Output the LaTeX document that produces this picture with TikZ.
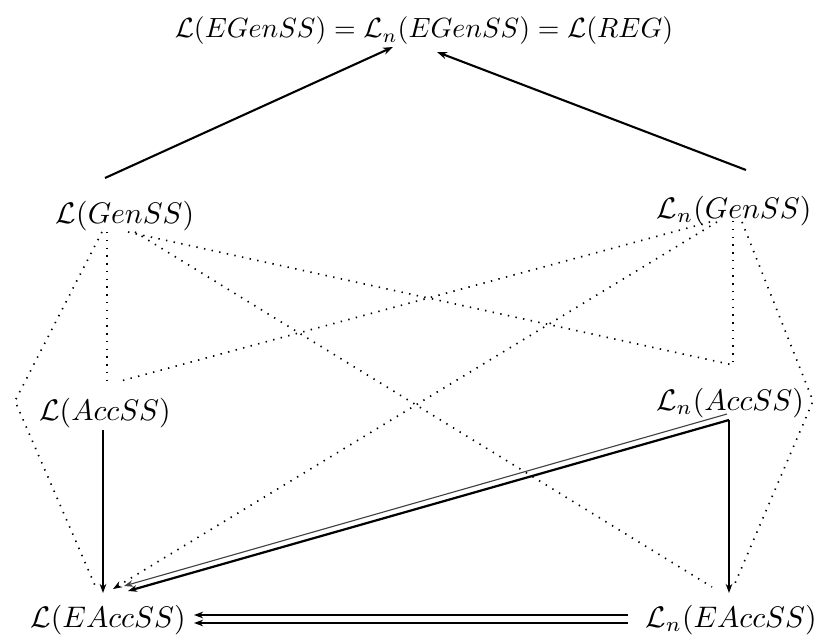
\documentclass[tikz,border=0pt]{standalone}
\usetikzlibrary{arrows.meta}
\begin{document}
\begin{tikzpicture}[x=0.36pt,y=-0.36pt,
  lbl/.style={inner sep=0pt},
  nlbl/.style={inner sep=0pt,scale=1.07},
  dotline/.style={line width=0.6pt,dash pattern=on 0.5pt off 2.3pt},
  tip/.style={-{Stealth[length=3.3pt,width=2.4pt]}},
  thickarr/.style={line width=0.75pt,-{Stealth[length=3.6pt,width=2.6pt]}},
  solidarr/.style={line width=0.45pt,tip},
]
\useasboundingbox (0,0) rectangle (817,640);
\node[lbl] (top) at (424,31) {$\mathcal{L}(EGenSS) = \mathcal{L}_n(EGenSS) = \mathcal{L}(REG)$};
\node[nlbl] (gen) at (125,216) {$\mathcal{L}(GenSS)$};
\node[nlbl] (ngen) at (734,211) {$\mathcal{L}_n(GenSS)$};
\node[nlbl] (acc) at (105,413) {$\mathcal{L}(AccSS)$};
\node[nlbl] (nacc) at (730,403) {$\mathcal{L}_n(AccSS)$};
\node[nlbl] (eacc) at (108,620) {$\mathcal{L}(EAccSS)$};
\node[nlbl] (neacc) at (731,620) {$\mathcal{L}_n(EAccSS)$};
\coordinate (lc) at (15,401);
\coordinate (rc) at (813,401);

% top arrows
\draw[thickarr] ([shift={(-20,-38)}]gen.center) -- ([shift={(-31,16)}]top.center);
\draw[thickarr] ([shift={(12,-41)}]ngen.center) -- ([shift={(13,21)}]top.center);

% dotted from L(GenSS)
\draw[dotline] ([shift={(-18,16)}]gen.center) -- ([shift={(2,-29)}]acc.center);
\draw[dotline] ([shift={(-23,16)}]gen.center) -- (lc) -- ([shift={(-11,-30)}]eacc.center);
\draw[dotline] ([shift={(3,16)}]gen.center) -- ([shift={(3,-38)}]nacc.center);
\draw[dotline] ([shift={(10,16)}]gen.center) -- ([shift={(-19,-33)}]neacc.center);

% dotted from Ln(GenSS)
\draw[dotline] ([shift={(-1,10)}]ngen.center) -- ([shift={(3,-38)}]nacc.center);
\draw[dotline] ([shift={(-24,11)}]ngen.center) -- ([shift={(12,-31)}]acc.center);
\draw[dotline,tip] ([shift={(-17,11)}]ngen.center) -- ([shift={(5,-31)}]eacc.center);
\draw[dotline] ([shift={(8,11)}]ngen.center) -- (rc) -- ([shift={(2,-32)}]neacc.center);

% solid vertical arrows
\draw[solidarr] ([shift={(-2,17)}]acc.center) -- ([shift={(-5,-27)}]eacc.center);
\draw[solidarr] ([shift={(-1,17)}]nacc.center) -- ([shift={(-2,-27)}]neacc.center);

% double diagonal arrow
\draw[line width=0.4pt,black!75,tip] ([shift={(-3,11)}]nacc.center) -- ([shift={(16,-34)}]eacc.center);
\draw[line width=0.8pt,tip] ([shift={(-1,17)}]nacc.center) -- ([shift={(20,-29)}]eacc.center);

% double horizontal arrow
\draw[line width=0.5pt,tip] ([shift={(-103,-5)}]neacc.center) -- ([shift={(86,-5)}]eacc.center);
\draw[line width=0.5pt,tip] ([shift={(-103,3)}]neacc.center) -- ([shift={(86,3)}]eacc.center);
\end{tikzpicture}
\end{document}
